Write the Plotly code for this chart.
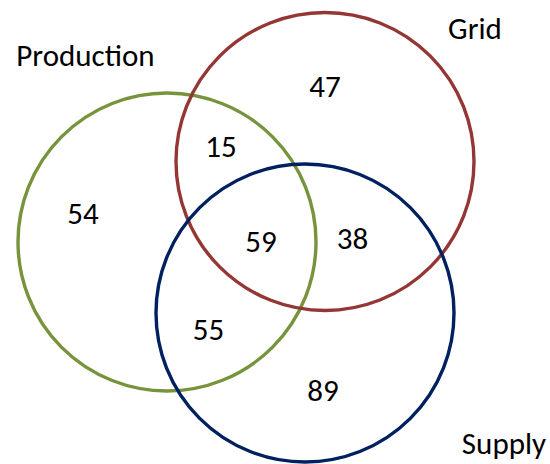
import plotly.graph_objects as go

# ---- data ----
set_names = ["Production", "Grid", "Supply"]
set_colors = ["#77933C", "#943634", "#002060"]
region_labels = ["Production only", "Production & Grid", "Grid only",
                 "All three", "Grid & Supply", "Production & Supply", "Supply only"]
region_counts = [54, 15, 47, 59, 38, 55, 89]

# ---- layout geometry (pixel space) ----
W, H = 550, 464
circle_centers = [(167, 242), (325, 161.5), (305, 313)]
circle_radius = 149
region_pos = [(83, 216), (221, 149), (325, 89), (261, 244), (352.5, 241), (208.5, 332), (323, 393)]
name_pos = [(85.5, 58), (475, 31), (504, 446)]

FONT = "Calibri, Carlito, Lato, sans-serif"
FS_NUM = 31
FS_NAME = 31

fig = go.Figure()

shapes = []
for (cx, cy), col in zip(circle_centers, set_colors):
    shapes.append(dict(type="circle", xref="x", yref="y",
                       x0=cx - circle_radius, x1=cx + circle_radius,
                       y0=cy - circle_radius, y1=cy + circle_radius,
                       line=dict(color=col, width=3.4), fillcolor="rgba(0,0,0,0)"))

fig.add_trace(go.Scatter(x=[0, W], y=[0, H], mode="markers",
                         marker=dict(opacity=0), hoverinfo="skip", showlegend=False))

fig.add_trace(go.Scatter(
    x=[p[0] for p in region_pos], y=[p[1] for p in region_pos],
    mode="text", text=[str(v) for v in region_counts],
    textfont=dict(family=FONT, size=FS_NUM, color="black"),
    textposition="middle center", customdata=region_labels,
    hovertemplate="%{customdata}: %{text}<extra></extra>", showlegend=False))

fig.add_trace(go.Scatter(
    x=[p[0] for p in name_pos], y=[p[1] for p in name_pos],
    mode="text", text=set_names,
    textfont=dict(family=FONT, size=FS_NAME, color="black"),
    textposition="middle center", hoverinfo="skip", showlegend=False))

fig.update_layout(
    width=W, height=H, margin=dict(l=0, r=0, t=0, b=0),
    paper_bgcolor="white", plot_bgcolor="white",
    xaxis=dict(range=[0, W], visible=False, fixedrange=True),
    yaxis=dict(range=[H, 0], visible=False, fixedrange=True),
    shapes=shapes,
)

fig.write_html("out.html", config={"displayModeBar": False},
               post_script="document.body.style.margin='0';document.body.style.overflow='hidden';")
